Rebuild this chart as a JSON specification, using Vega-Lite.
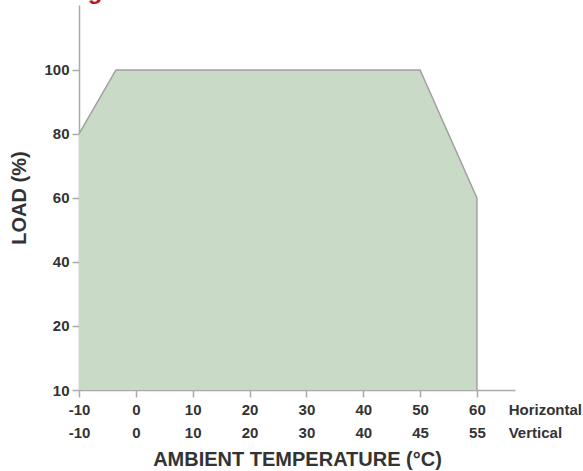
{
  "$schema": "https://vega.github.io/schema/vega-lite/v6.json",
  "width": 436,
  "height": 385,
  "autosize": {"type": "none"},
  "padding": {"left": 79, "top": 5, "right": 68, "bottom": 81},
  "background": "white",
  "title": {
    "text": "Derating Curve",
    "color": "#c0161b",
    "font": "Liberation Sans",
    "fontSize": 24,
    "fontWeight": "bold",
    "anchor": "start",
    "baseline": "alphabetic",
    "dx": -5,
    "dy": 18,
    "offset": 0
  },
  "config": {
    "view": {"stroke": null},
    "axis": {
      "grid": false,
      "labelFont": "Liberation Sans",
      "titleFont": "Liberation Sans",
      "labelFontWeight": "bold",
      "titleFontWeight": "bold",
      "labelColor": "#333333",
      "titleColor": "#333333",
      "labelFontSize": 15,
      "titleFontSize": 20,
      "domainColor": "#aaaaaa",
      "tickColor": "#aaaaaa",
      "domainWidth": 1.5,
      "tickWidth": 1.5,
      "tickSize": 7
    }
  },
  "data": {
    "values": [
      {"temp": -10, "load": 80, "o": 1},
      {"temp": -3.5, "load": 100, "o": 2},
      {"temp": 50, "load": 100, "o": 3},
      {"temp": 60, "load": 60, "o": 4},
      {"temp": 60, "load": 0, "o": 5}
    ]
  },
  "layer": [
    {
      "transform": [{"filter": "datum.o < 5"}],
      "mark": {"type": "area", "color": "#c9dbc6", "opacity": 1},
      "encoding": {
        "x": {
          "field": "temp",
          "type": "quantitative",
          "scale": {"domain": [-10, 66.7], "nice": false, "zero": false},
          "axis": {
            "values": [-10, 0, 10, 20, 30, 40, 50, 60, 65.5],
            "labelExpr": "datum.value > 61 ? ['Horizontal', 'Vertical'] : [toString(datum.value), datum.value == 50 ? '45' : datum.value == 60 ? '55' : toString(datum.value)]",
            "labelAlign": {"condition": {"test": "datum.value > 61", "value": "left"}, "value": "center"},
            "tickOpacity": {"condition": {"test": "datum.value > 61", "value": 0}, "value": 1},
            "labelLineHeight": 23.5,
            "labelPadding": 5,
            "labelFlush": false,
            "labelOverlap": false,
            "title": "AMBIENT TEMPERATURE (°C)",
            "titlePadding": 9
          }
        },
        "y": {
          "field": "load",
          "type": "quantitative",
          "scale": {"domain": [0, 120.3], "nice": false},
          "axis": {
            "values": [0, 20, 40, 60, 80, 100],
            "labelExpr": "datum.value == 0 ? '10' : datum.label",
            "labelPadding": 3,
            "labelFlush": false,
            "title": "LOAD (%)",
            "titlePadding": 14
          }
        }
      }
    },
    {
      "mark": {"type": "line", "color": "#a0a0a0", "strokeWidth": 1.5},
      "encoding": {
        "x": {"field": "temp", "type": "quantitative"},
        "y": {"field": "load", "type": "quantitative"},
        "order": {"field": "o"}
      }
    }
  ]
}
